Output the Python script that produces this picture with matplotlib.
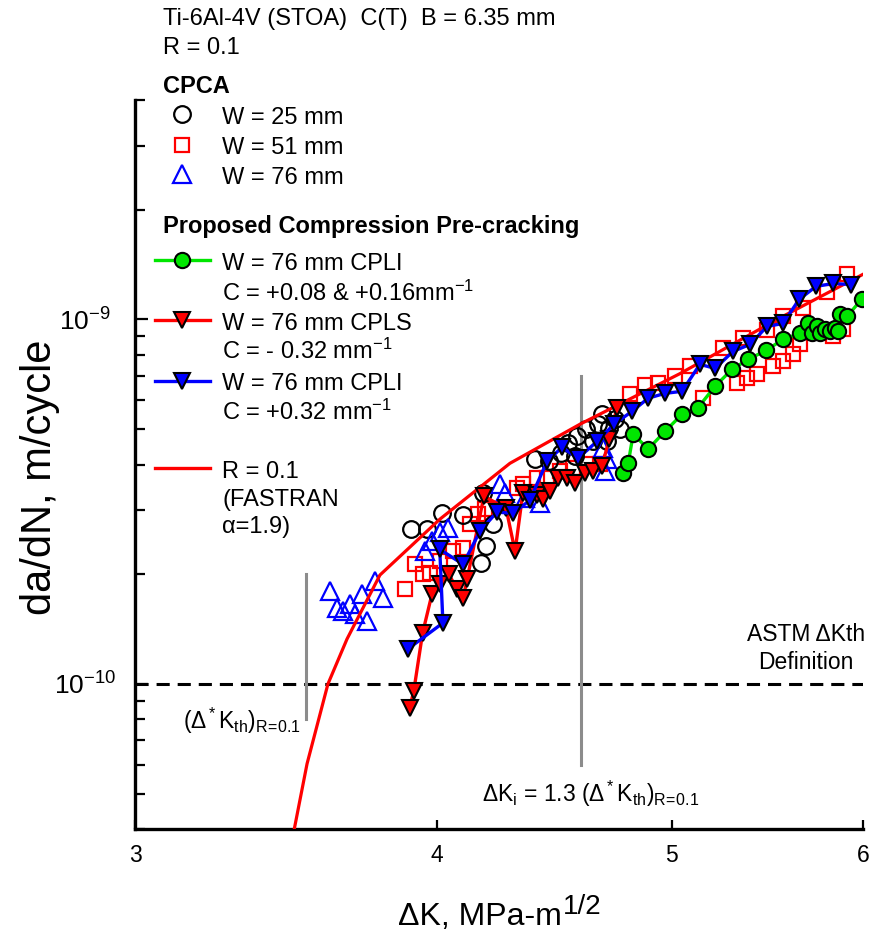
import numpy as np
import matplotlib
matplotlib.use('Agg')
import matplotlib.pyplot as plt
from matplotlib.ticker import FixedLocator, FixedFormatter, NullLocator, NullFormatter

plt.rcParams['font.family'] = ['Liberation Sans', 'DejaVu Sans']
plt.rcParams['mathtext.fontset'] = 'custom'
plt.rcParams['mathtext.rm'] = 'Liberation Sans'
plt.rcParams['mathtext.it'] = 'Liberation Sans:italic'
plt.rcParams['mathtext.bf'] = 'Liberation Sans:bold'
plt.rcParams['mathtext.default'] = 'regular'

# ---------------- data ----------------
x_ticks = [3, 4, 5, 6]
x_tick_labels = ['3', '4', '5', '6']
y_major = [1e-10, 1e-9]
y_major_labels = [r'$10^{-10}$', r'$10^{-9}$']
y_minor = [k * 10.0 ** e for e in (-11, -10, -9) for k in range(2, 10)]

UNIT = 1e-10  # da/dN values below are in units of 1e-10 m/cycle

# CPCA W = 25 mm (open black circles)
cpca25_dk = [3.90, 3.96, 4.02, 4.10, 4.18, 4.22, 4.19, 4.17, 4.39, 4.45, 4.50,
             4.53, 4.57, 4.61, 4.64, 4.66, 4.68, 4.71, 4.74, 4.76, 4.70, 4.56]
cpca25_dadn = [2.66, 2.66, 2.94, 2.91, 3.34, 2.74, 2.39, 2.15, 4.14, 4.08, 4.29,
               4.57, 4.78, 4.99, 4.63, 5.16, 5.49, 5.03, 5.32, 5.00, 4.63, 4.21]

# CPCA W = 51 mm (open red squares)
cpca51_dk = [3.879, 3.915, 3.945, 3.972, 4.010, 4.061, 4.100, 4.127, 4.159, 4.186,
             4.316, 4.341, 4.399, 4.441, 4.496, 4.553, 4.614, 4.671, 4.807, 4.876,
             4.937, 5.017, 5.089, 5.152, 5.251, 5.322, 5.373, 5.424, 5.507, 5.560,
             5.613, 5.651, 5.352, 5.476, 5.560, 5.667, 5.798, 5.887, 5.910, 5.831]
cpca51_dadn = [1.82, 2.13, 2.00, 2.01, 2.17, 2.32, 2.36, 2.75, 2.92, 3.02,
               3.44, 3.53, 3.67, 3.67, 3.83, 3.91, 4.01, 4.01, 6.23, 6.63,
               6.68, 6.98, 7.44, 6.08, 8.33, 6.68, 6.89, 7.07, 7.44, 7.67,
               8.02, 8.54, 8.87, 9.33, 10.2, 10.72, 11.93, 9.39, 13.3, 8.99]

# CPCA W = 76 mm (open blue triangles)
cpca76_dk = [3.612, 3.636, 3.657, 3.682, 3.724, 3.770, 3.799, 3.741, 3.699, 3.953,
             3.980, 4.010, 4.041, 4.246, 4.267, 4.412, 4.349, 4.685, 4.694, 4.703]
cpca76_dadn = [1.80, 1.62, 1.59, 1.66, 1.76, 1.92, 1.72, 1.49, 1.56, 2.31,
               2.47, 2.61, 2.68, 3.53, 3.34, 3.13, 3.23, 4.43, 3.83, 4.13]

# W = 76 mm CPLI, C = +0.08 & +0.16 mm^-1 (green)
cpli_a_dk = [4.775, 4.798, 4.821, 4.890, 4.969, 5.050, 5.127, 5.212, 5.296, 5.378,
             5.471, 5.560, 5.651, 5.694, 5.716, 5.743, 5.759, 5.787, 5.815, 5.843,
             5.859, 5.870, 5.910, 5.995]
cpli_a_dadn = [3.79, 4.03, 4.85, 4.41, 4.93, 5.49, 5.72, 6.56, 7.29, 7.77,
               8.22, 8.82, 9.16, 9.75, 9.16, 9.57, 9.16, 9.39, 9.27, 9.45,
               9.27, 10.33, 10.2, 11.4]

# W = 76 mm CPLS, C = -0.32 mm^-1 (red filled down triangles)
cpls_dk = [3.897, 3.912, 3.945, 3.980, 4.010, 4.045, 4.076, 4.100, 4.116, 4.182,
           4.271, 4.308, 4.340, 4.399, 4.425, 4.454, 4.487, 4.527, 4.561, 4.605,
           4.640, 4.680, 4.712, 4.747]
cpls_dadn = [0.86, 0.957, 1.38, 1.76, 1.88, 2.00, 1.82, 1.72, 1.94, 3.27,
             3.04, 2.31, 3.34, 3.30, 3.21, 3.38, 3.67, 3.67, 3.56, 3.79,
             3.83, 3.96, 4.69, 5.72]

# W = 76 mm CPLI, C = +0.32 mm^-1 (blue filled down triangles)
cpli_b_dk = [3.890, 4.022, 4.010, 4.100, 4.167, 4.234, 4.299, 4.369, 4.441, 4.505,
             4.574, 4.658, 4.734, 4.816, 4.890, 4.969, 5.050, 5.137, 5.212, 5.301,
             5.388, 5.476, 5.560, 5.646, 5.737, 5.831, 5.932]
cpli_b_dadn = [1.247, 1.47, 2.34, 2.13, 2.63, 2.96, 2.94, 3.19, 4.08, 4.46,
               4.16, 4.63, 5.16, 5.60, 6.08, 6.27, 6.35, 7.53, 7.34, 8.17,
               8.54, 9.57, 9.75, 11.35, 12.32, 12.55, 12.47]

# FASTRAN R = 0.1, alpha = 1.9
fastran_dk = [3.49, 3.534, 3.605, 3.671, 3.788, 4.010, 4.287, 4.583, 5.040, 5.544, 6.0]
fastran_dadn = [0.395, 0.604, 1.0, 1.328, 1.99, 2.83, 4.03, 5.16, 7.1, 10.1, 13.3]

# reference values
astm_rate = 1e-10
dk_th = 3.53
dk_i = 1.3 * dk_th
dk_th_span = [0.80, 2.0]
dk_i_span = [0.60, 7.0]

# ---------------- figure ----------------
W, H = 873, 934
fig = plt.figure(figsize=(W / 100, H / 100), dpi=100)
L, R, T, B = 135, 863, 100, 829
ax = fig.add_axes([L / W, 1 - B / H, (R - L) / W, (B - T) / H])
ax.set_xscale('log')
ax.set_yscale('log')
ax.set_xlim(3, 6)
ax.set_ylim(4e-11, 4e-9)

for s in ('top', 'right'):
    ax.spines[s].set_visible(False)
for s in ('left', 'bottom'):
    ax.spines[s].set_linewidth(2.4)

ax.xaxis.set_major_locator(FixedLocator(x_ticks))
ax.xaxis.set_major_formatter(FixedFormatter(x_tick_labels))
ax.xaxis.set_minor_locator(NullLocator())
ax.xaxis.set_minor_formatter(NullFormatter())
ax.yaxis.set_major_locator(FixedLocator(y_major))
ax.yaxis.set_major_formatter(FixedFormatter(y_major_labels))
ax.yaxis.set_minor_locator(FixedLocator(y_minor))
ax.yaxis.set_minor_formatter(NullFormatter())

ax.tick_params(axis='x', which='major', direction='in', length=6.5, width=1.6,
               labelsize=16.5, pad=11)
ax.tick_params(axis='y', which='major', direction='in', length=9.5, width=1.6,
               labelsize=19, pad=36)
ax.tick_params(axis='y', which='minor', direction='in', length=7, width=1.6)
for lbl in ax.get_yticklabels():
    lbl.set_horizontalalignment('center')

red = '#ff0000'
blue = '#0000ff'
green = '#00e600'
grey = '#8c8c8c'

MS_O, MS_S, MS_T, MS_V, MS_G = 12, 10.5, 12.5, 12, 11

# reference lines
ax.axhline(astm_rate, color='black', lw=2.2, dashes=(4.3, 2.6), zorder=2)
ax.plot([dk_th, dk_th], np.array(dk_th_span) * UNIT, color=grey, lw=2.2, zorder=2)
ax.plot([dk_i, dk_i], np.array(dk_i_span) * UNIT, color=grey, lw=2.2, zorder=2)

# CPCA data
ax.plot(cpca51_dk, np.array(cpca51_dadn) * UNIT, ls='none', marker='s', ms=MS_S,
        mfc='none', mec=red, mew=1.6, zorder=3)
ax.plot(cpca25_dk, np.array(cpca25_dadn) * UNIT, ls='none', marker='o', ms=MS_O,
        mfc='none', mec='black', mew=1.6, zorder=3)
ax.plot(cpca76_dk, np.array(cpca76_dadn) * UNIT, ls='none', marker='^', ms=MS_T,
        mfc='none', mec=blue, mew=1.6, zorder=3)

# FASTRAN
ax.plot(fastran_dk, np.array(fastran_dadn) * UNIT, color=red, lw=2.3, zorder=4)

# proposed compression pre-cracking
ax.plot(cpls_dk, np.array(cpls_dadn) * UNIT, color=red, lw=2.4, marker='v', ms=MS_V,
        mfc=red, mec='black', mew=1.5, zorder=5)
ax.plot(cpli_b_dk, np.array(cpli_b_dadn) * UNIT, color=blue, lw=2.4, marker='v', ms=MS_V,
        mfc=blue, mec='black', mew=1.5, zorder=5)
ax.plot(cpli_a_dk, np.array(cpli_a_dadn) * UNIT, color=green, lw=2.4, marker='o', ms=MS_G,
        mfc=green, mec='black', mew=1.5, zorder=6)

# ---------------- annotations ----------------
def axfrac(px, py):
    return (px - L) / (R - L), (B - py) / (B - T)

FS = 17

def atext(px, py, s, **kw):
    x, y = axfrac(px, py)
    kw.setdefault('fontsize', FS)
    kw.setdefault('va', 'center_baseline')
    kw.setdefault('ha', 'left')
    ax.text(x, y, s, transform=ax.transAxes, clip_on=False, **kw)

atext(183, 717, r'($\Delta^*$K$_{th}$)$_{R\!=\!0.1}$', fontsize=16.5)
atext(482, 790, r'$\Delta$K$_{i}$ = 1.3 ($\Delta^*$K$_{th}$)$_{R\!=\!0.1}$', fontsize=16.5)
atext(806, 632, 'ASTM ΔKth', ha='center', fontsize=16.5)
atext(806, 660, 'Definition', ha='center', fontsize=16.5)

# legend block
atext(163, 84, 'CPCA', fontweight='bold')
atext(163, 224, 'Proposed Compression Pre-cracking', fontweight='bold')

def lmark(py, **kw):
    x, y = axfrac(182, py)
    ax.plot([x], [y], transform=ax.transAxes, clip_on=False, ls='none', **kw)

def lline(py, color):
    x0, y = axfrac(155, py)
    x1, _ = axfrac(210, py)
    ax.plot([x0, x1], [y, y], transform=ax.transAxes, clip_on=False, color=color,
            lw=2.4, zorder=6)

lmark(114, marker='o', ms=MS_O, mfc='none', mec='black', mew=1.6)
atext(222, 115, 'W = 25 mm')
lmark(145, marker='s', ms=MS_S, mfc='none', mec=red, mew=1.6)
atext(222, 145, 'W = 51 mm')
lmark(174, marker='^', ms=MS_T, mfc='none', mec=blue, mew=1.6)
atext(222, 175, 'W = 76 mm')

lline(260, green)
lmark(260, marker='o', ms=MS_G, mfc=green, mec='black', mew=1.5, zorder=7)
atext(222, 261, 'W = 76 mm CPLI')
atext(222, 291, r'C = +0.08 & +0.16mm$^{-1}$')

lline(320, red)
lmark(320, marker='v', ms=MS_V, mfc=red, mec='black', mew=1.5, zorder=7)
atext(222, 321, 'W = 76 mm CPLS')
atext(222, 349, r'C = - 0.32 mm$^{-1}$')

lline(381, blue)
lmark(381, marker='v', ms=MS_V, mfc=blue, mec='black', mew=1.5, zorder=7)
atext(222, 382, 'W = 76 mm CPLI')
atext(222, 410, r'C = +0.32 mm$^{-1}$')

lline(468, red)
atext(222, 469, 'R = 0.1')
atext(222, 497, '(FASTRAN')
atext(222, 524, 'α=1.9)')

# title lines
fig.text(163 / W, 1 - 17 / H, 'Ti-6Al-4V (STOA)  C(T)  B = 6.35 mm', fontsize=FS,
         ha='left', va='center_baseline')
fig.text(163 / W, 1 - 45 / H, 'R = 0.1', fontsize=FS, ha='left', va='center_baseline')

# axis labels
fig.text(40 / W, 1 - 477 / H, 'da/dN, m/cycle', rotation=90, fontsize=30,
         ha='center', va='center')

t1 = fig.text(0, 0, 'ΔK, MPa-m', fontsize=23, ha='left', va='baseline')
t2 = fig.text(0, 0, '1/2', fontsize=20, ha='left', va='baseline')
fig.canvas.draw()
rend = fig.canvas.get_renderer()
w1 = t1.get_window_extent(rend).width
w2 = t2.get_window_extent(rend).width
x0 = 499 - (w1 + w2) / 2
t1.set_position((x0 / W, 1 - 925 / H))
t2.set_position(((x0 + w1 + 1) / W, 1 - 914 / H))

fig.savefig('out.png', dpi=100)
